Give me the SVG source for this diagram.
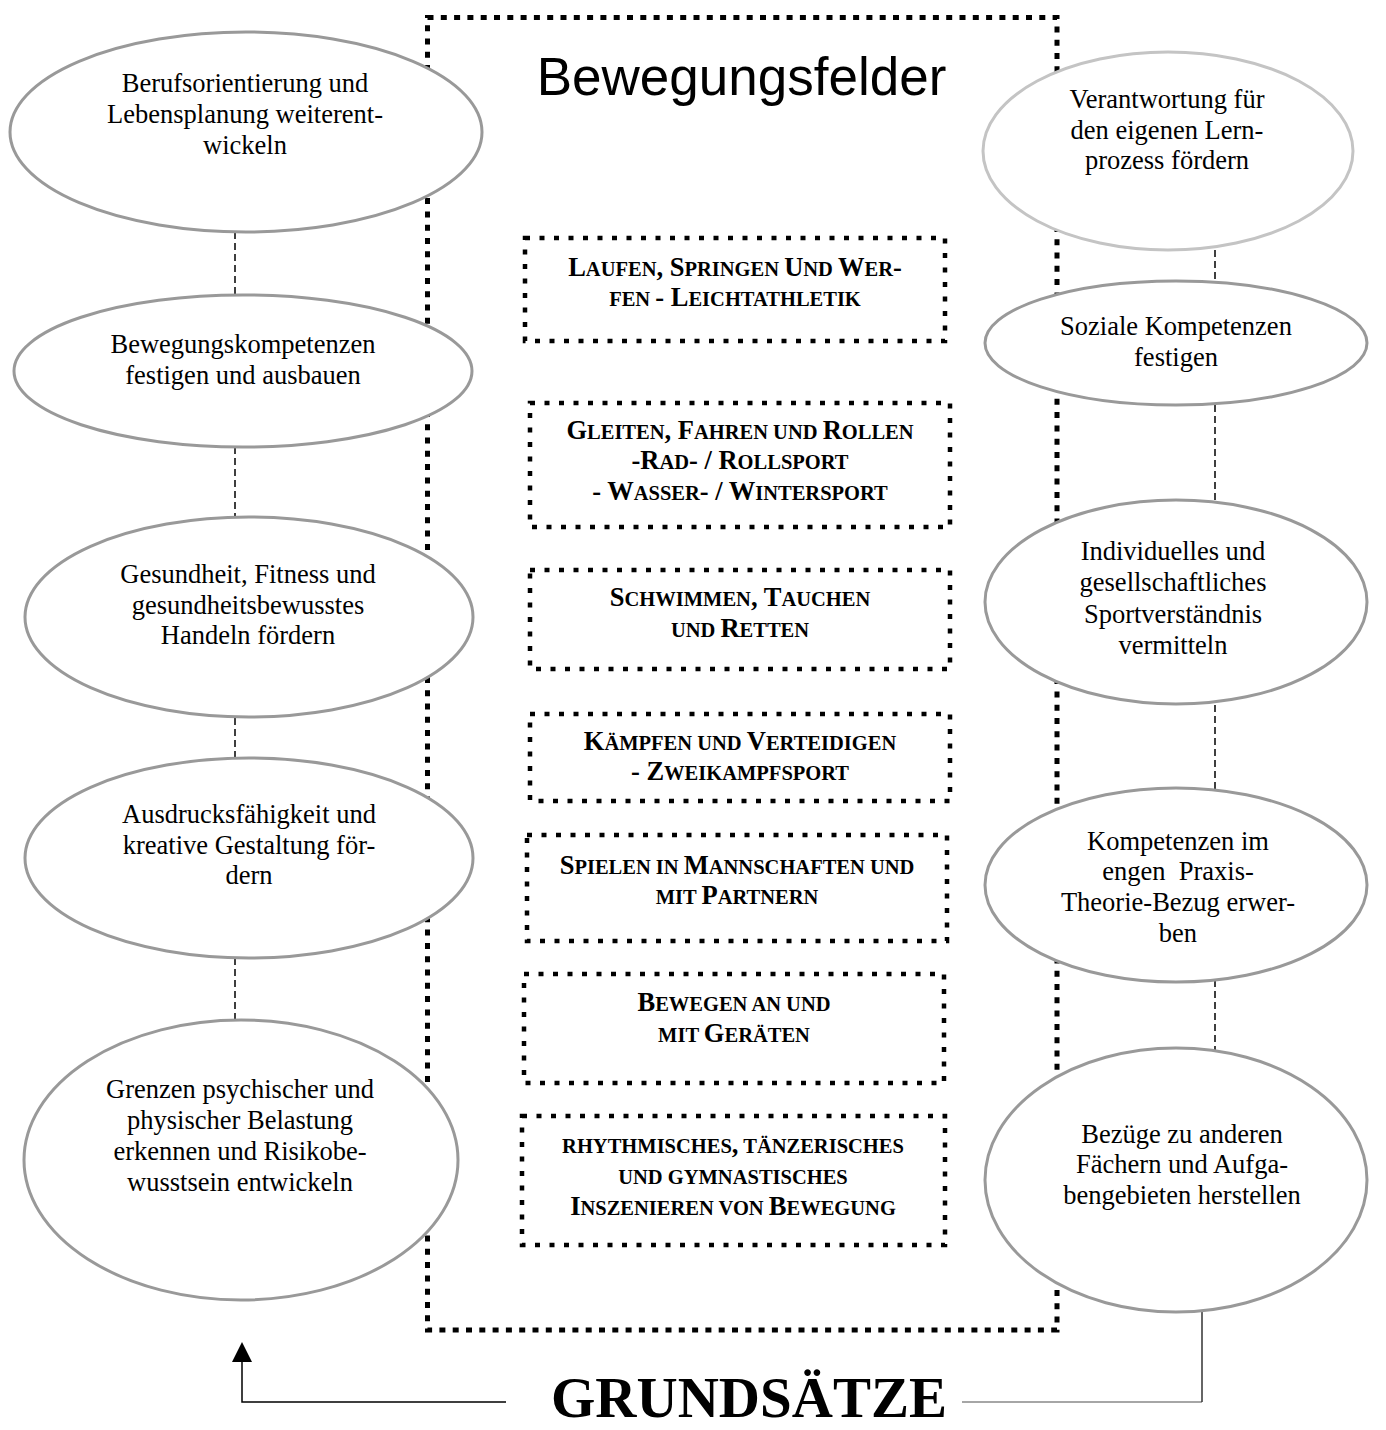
<svg xmlns="http://www.w3.org/2000/svg" width="1386" height="1430" viewBox="0 0 1386 1430">
<defs>
<style>
.frame{fill:none;stroke:#000;stroke-width:5;stroke-dasharray:6 7.3}
.box{fill:none;stroke:#000;stroke-width:4.5;stroke-dasharray:5 9.5}
.ell{fill:#fff;stroke:#999;stroke-width:3}
.ell2{fill:#fff;stroke:#c4c4c4;stroke-width:3}
.t{font-family:"Liberation Serif","Times New Roman",serif;font-size:26.5px;text-anchor:middle;fill:#000}
.sc{font-family:"Liberation Serif","Times New Roman",serif;font-weight:bold;font-size:20.5px;text-anchor:middle;fill:#000}
.c{font-size:26.5px}
.dash{stroke:#000;stroke-width:1.5;stroke-dasharray:7 4;fill:none}
.title{font-family:"Liberation Sans",Arial,sans-serif;font-size:53px;text-anchor:middle}
.grund{font-family:"Liberation Serif","Times New Roman",serif;font-weight:bold;font-size:57px;text-anchor:middle}
</style>
</defs>
<rect width="1386" height="1430" fill="#fff"/>

<g id="frame">
<rect class="frame" x="427.5" y="17.5" width="629.5" height="1312.5"/>
<text class="title" x="741.5" y="95">Bewegungsfelder</text>
</g>

<g id="connectors">
<line class="dash" x1="235" y1="232" x2="235" y2="295"/>
<line class="dash" x1="235" y1="447" x2="235" y2="517"/>
<line class="dash" x1="235" y1="718" x2="235" y2="759"/>
<line class="dash" x1="235" y1="958" x2="235" y2="1020"/>
<line class="dash" x1="1215" y1="250" x2="1215" y2="282"/>
<line class="dash" x1="1215" y1="405" x2="1215" y2="500"/>
<line class="dash" x1="1215" y1="705" x2="1215" y2="790"/>
<line class="dash" x1="1215" y1="980" x2="1215" y2="1050"/>
<path d="M506,1402 L242,1402 L242,1362" fill="none" stroke="#000" stroke-width="1.5"/>
<path d="M232,1362 L242,1342 L252,1362 Z" fill="#000"/>
<line x1="962" y1="1402" x2="1202" y2="1402" stroke="#888" stroke-width="1.5"/>
<line x1="1202" y1="1402" x2="1202" y2="1312" stroke="#333" stroke-width="1.5"/>
</g>

<g id="l1">
<ellipse class="ell" cx="246" cy="132" rx="236" ry="100"/>
<text class="t" x="245" y="92">Berufsorientierung und</text>
<text class="t" x="245" y="123">Lebensplanung weiterent-</text>
<text class="t" x="245" y="154">wickeln</text>
</g>
<g id="l2">
<ellipse class="ell" cx="243" cy="371" rx="229" ry="76"/>
<text class="t" x="243" y="353">Bewegungskompetenzen</text>
<text class="t" x="243" y="384">festigen und ausbauen</text>
</g>
<g id="l3">
<ellipse class="ell" cx="249" cy="617" rx="224" ry="100"/>
<text class="t" x="248" y="583">Gesundheit, Fitness und</text>
<text class="t" x="248" y="614">gesundheitsbewusstes</text>
<text class="t" x="248" y="644">Handeln fördern</text>
</g>
<g id="l4">
<ellipse class="ell" cx="249" cy="858" rx="224" ry="100"/>
<text class="t" x="249" y="823">Ausdrucksfähigkeit und</text>
<text class="t" x="249" y="854">kreative Gestaltung för-</text>
<text class="t" x="249" y="884">dern</text>
</g>
<g id="l5">
<ellipse class="ell" cx="241" cy="1160" rx="217" ry="140"/>
<text class="t" x="240" y="1098">Grenzen psychischer und</text>
<text class="t" x="240" y="1129">physischer Belastung</text>
<text class="t" x="240" y="1160">erkennen und Risikobe-</text>
<text class="t" x="240" y="1191">wusstsein entwickeln</text>
</g>

<g id="r1">
<ellipse class="ell2" cx="1168" cy="151" rx="185" ry="99"/>
<text class="t" x="1167" y="108">Verantwortung für</text>
<text class="t" x="1167" y="139">den eigenen Lern-</text>
<text class="t" x="1167" y="169">prozess fördern</text>
</g>
<g id="r2">
<ellipse class="ell" cx="1176" cy="343" rx="191" ry="62"/>
<text class="t" x="1176" y="335">Soziale Kompetenzen</text>
<text class="t" x="1176" y="366">festigen</text>
</g>
<g id="r3">
<ellipse class="ell" cx="1176" cy="602" rx="191" ry="102"/>
<text class="t" x="1173" y="560">Individuelles und</text>
<text class="t" x="1173" y="591">gesellschaftliches</text>
<text class="t" x="1173" y="623">Sportverständnis</text>
<text class="t" x="1173" y="654">vermitteln</text>
</g>
<g id="r4">
<ellipse class="ell" cx="1176" cy="885" rx="191" ry="97"/>
<text class="t" x="1178" y="850">Kompetenzen im</text>
<text class="t" x="1178" y="880" xml:space="preserve">engen  Praxis-</text>
<text class="t" x="1178" y="911">Theorie-Bezug erwer-</text>
<text class="t" x="1178" y="942">ben</text>
</g>
<g id="r5">
<ellipse class="ell" cx="1176" cy="1180" rx="191" ry="132"/>
<text class="t" x="1182" y="1143">Bezüge zu anderen</text>
<text class="t" x="1182" y="1173">Fächern und Aufga-</text>
<text class="t" x="1182" y="1204">bengebieten herstellen</text>
</g>

<g id="b1">
<rect class="box" x="525" y="238" width="420" height="103"/>
<text class="sc" x="735" y="276"><tspan class="c">L</tspan>AUFEN<tspan class="c">, S</tspan>PRINGEN <tspan class="c">U</tspan>ND <tspan class="c">W</tspan>ER<tspan class="c">-</tspan></text>
<text class="sc" x="735" y="306">FEN <tspan class="c">- L</tspan>EICHTATHLETIK</text>
</g>
<g id="b2">
<rect class="box" x="530" y="403" width="420" height="124"/>
<text class="sc" x="740" y="439"><tspan class="c">G</tspan>LEITEN<tspan class="c">, F</tspan>AHREN UND <tspan class="c">R</tspan>OLLEN</text>
<text class="sc" x="740" y="469"><tspan class="c">-R</tspan>AD<tspan class="c">- / R</tspan>OLLSPORT</text>
<text class="sc" x="740" y="500"><tspan class="c">- W</tspan>ASSER<tspan class="c">- / W</tspan>INTERSPORT</text>
</g>
<g id="b3">
<rect class="box" x="530" y="570" width="420" height="99"/>
<text class="sc" x="740" y="606"><tspan class="c">S</tspan>CHWIMMEN<tspan class="c">, T</tspan>AUCHEN</text>
<text class="sc" x="740" y="637">UND <tspan class="c">R</tspan>ETTEN</text>
</g>
<g id="b4">
<rect class="box" x="530" y="714" width="420" height="87"/>
<text class="sc" x="740" y="750"><tspan class="c">K</tspan>ÄMPFEN UND <tspan class="c">V</tspan>ERTEIDIGEN</text>
<text class="sc" x="740" y="780"><tspan class="c">- Z</tspan>WEIKAMPFSPORT</text>
</g>
<g id="b5">
<rect class="box" x="527" y="835" width="420" height="106"/>
<text class="sc" x="737" y="874"><tspan class="c">S</tspan>PIELEN IN <tspan class="c">M</tspan>ANNSCHAFTEN UND</text>
<text class="sc" x="737" y="904">MIT <tspan class="c">P</tspan>ARTNERN</text>
</g>
<g id="b6">
<rect class="box" x="524" y="974" width="420" height="109"/>
<text class="sc" x="734" y="1011"><tspan class="c">B</tspan>EWEGEN AN UND</text>
<text class="sc" x="734" y="1042">MIT <tspan class="c">G</tspan>ERÄTEN</text>
</g>
<g id="b7">
<rect class="box" x="522" y="1116" width="423" height="129"/>
<text class="sc" x="733" y="1153">RHYTHMISCHES<tspan class="c">,</tspan> TÄNZERISCHES</text>
<text class="sc" x="733" y="1184">UND GYMNASTISCHES</text>
<text class="sc" x="733" y="1215"><tspan class="c">I</tspan>NSZENIEREN VON <tspan class="c">B</tspan>EWEGUNG</text>
</g>

<g id="grundsaetze">
<text class="grund" x="749" y="1417">GRUNDSÄTZE</text>
</g>
</svg>
